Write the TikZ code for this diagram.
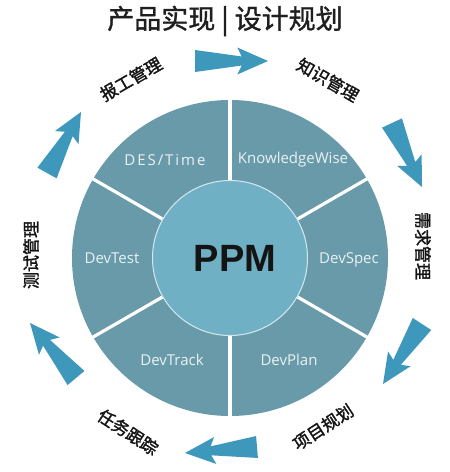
\documentclass[tikz,border=0pt]{standalone}
\usepackage{fontspec}
\usetikzlibrary{calc}
\newfontfamily\cjk[FakeBold=1.6]{Noto Sans CJK SC}
\newfontfamily\cjktitle[FakeBold=1.2]{Noto Sans CJK SC}
\newfontfamily\lat{Open Sans}
\newfontfamily\latwide[LetterSpace=13]{Open Sans}
\newfontfamily\ppmfont{Liberation Sans}
\definecolor{ringcol}{RGB}{104,154,170}
\definecolor{corecol}{RGB}{112,176,196}
\definecolor{arrowcol}{RGB}{62,152,188}
\definecolor{sectxt}{RGB}{234,242,244}
\tikzset{
  sectorlabel/.style={font=\lat\fontsize{15}{17}\selectfont, text=sectxt, inner sep=0pt},
  outerlabel/.style={font=\cjk\fontsize{17}{19}\selectfont, text=black!92, inner sep=0pt},
  divider/.style={white, line width=3.2pt},
}
\newcommand\bigarrow[2]{%
  \coordinate (nk) at ($(#1)!0.64!(#2)$);
  \coordinate (bb) at ($(#1)!0.58!(#2)$);
  \fill[arrowcol] ($(#1)!11pt!90:(#2)$) -- ($(nk)!4.5pt!90:(#2)$) -- ($(bb)!13.5pt!90:(#2)$)
    -- (#2) -- ($(bb)!13.5pt!-90:(#2)$) -- ($(nk)!4.5pt!-90:(#2)$) -- ($(#1)!11pt!-90:(#2)$) -- cycle;
}
\begin{document}
\begin{tikzpicture}[x=1pt,y=-1pt]
\useasboundingbox (0,0) rectangle (450,472);
\fill[white] (0,0) rectangle (450,472);
% title
\node[font=\cjktitle\fontsize{27}{29}\selectfont, text=black!88, inner sep=0pt] (title) at (225,21) {产品实现 | 设计规划};
% wheel
\coordinate (c) at (230,258);
\fill[ringcol] (c) circle[radius=158pt];
\foreach \a in {90,30,-30,-90,-150,150}
  \draw[divider] (c) ++(\a:70pt) -- ++(\a:90pt);
\fill[corecol] (c) circle[radius=78pt];
\draw[white!70!corecol, line width=1pt] (c) circle[radius=77.5pt];
\node[font=\ppmfont\bfseries\fontsize{38}{40}\selectfont, text=black!92, inner sep=0pt] (ppm) at (235,258) {PPM};
\node[sectorlabel, font=\latwide\fontsize{15}{17}\selectfont] (des) at (165,160) {DES/Time};
\node[sectorlabel] (kw) at (293,160) {KnowledgeWise};
\node[sectorlabel] (dt) at (112,258) {DevTest};
\node[sectorlabel] (ds) at (349,260) {DevSpec};
\node[sectorlabel] (dtr) at (172,360) {DevTrack};
\node[sectorlabel] (dp) at (289,360) {DevPlan};
% outer labels
\node[outerlabel, rotate=30] (l1) at (131,79) {报工管理};
\node[outerlabel, rotate=-30] (l2) at (328,80) {知识管理};
\node[outerlabel, rotate=-90] (l3) at (423,246) {需求管理};
\node[outerlabel, rotate=33] (l4) at (323,427) {项目规划};
\node[outerlabel, rotate=-33] (l5) at (128,432) {任务跟踪};
\node[outerlabel, rotate=90] (l6) at (31,255) {测试管理};
% arrows
\coordinate (a1t) at (195,61); \coordinate (a1h) at (268,61);
\coordinate (a2t) at (392,123); \coordinate (a2h) at (422,187);
\coordinate (a3t) at (422,324); \coordinate (a3h) at (383,384);
\coordinate (a4t) at (257,447); \coordinate (a4h) at (185,453);
\coordinate (a5t) at (76,378); \coordinate (a5h) at (30,323);
\coordinate (a6t) at (47,173); \coordinate (a6h) at (81,112);
\bigarrow{a1t}{a1h}
\bigarrow{a2t}{a2h}
\bigarrow{a3t}{a3h}
\bigarrow{a4t}{a4h}
\bigarrow{a5t}{a5h}
\bigarrow{a6t}{a6h}
\end{tikzpicture}
\end{document}
